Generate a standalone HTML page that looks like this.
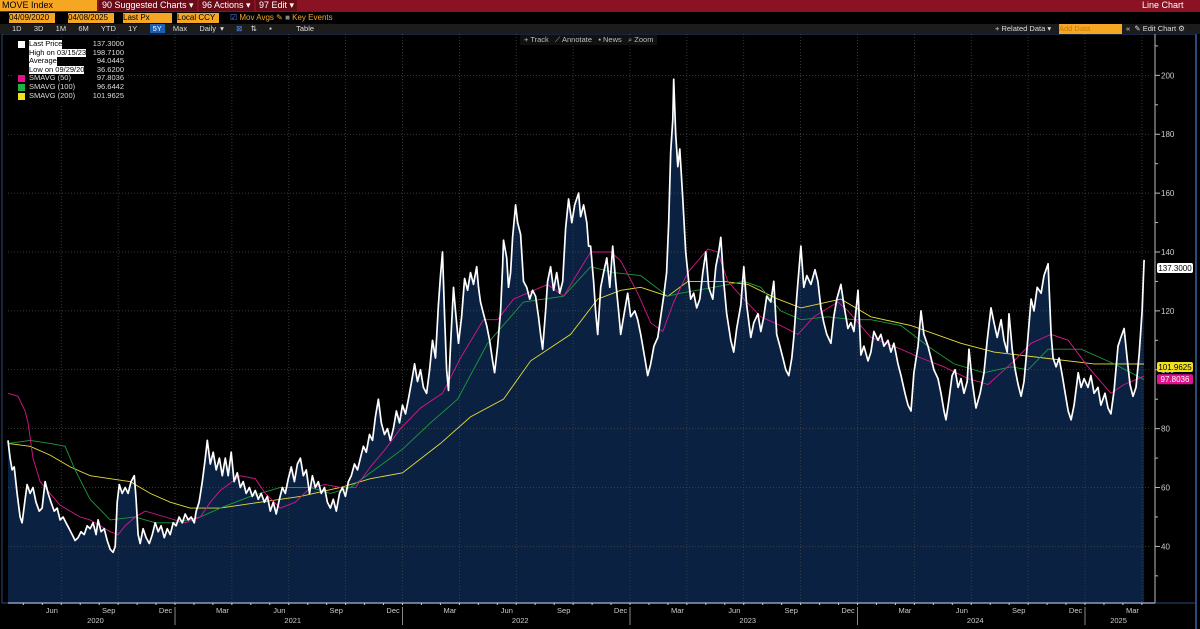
<!DOCTYPE html>
<html><head><meta charset="utf-8">
<style>
html,body{margin:0;padding:0;background:#000;}
body{width:1200px;height:629px;overflow:hidden;font-family:"Liberation Sans",sans-serif;position:relative;}
.bar{position:absolute;left:0;width:1200px;}
.t{position:absolute;font-size:8px;white-space:nowrap;}
</style></head>
<body>
<div class="bar" style="top:0;height:12px;background:#8a1222;"></div>
<div class="t" style="left:0;top:0;width:95px;height:11px;background:#f5a623;color:#000;font-size:9px;line-height:11px;padding-left:2px;">MOVE Index</div>
<div class="t" style="left:99px;top:0;color:#fff;font-size:9px;line-height:11px;background:#6a0c18;padding:0 3px;">90 Suggested Charts ▾</div>
<div class="t" style="left:199px;top:0;color:#fff;font-size:9px;line-height:11px;background:#6a0c18;padding:0 3px;">96 Actions ▾</div>
<div class="t" style="left:256px;top:0;color:#fff;font-size:9px;line-height:11px;background:#6a0c18;padding:0 3px;">97 Edit ▾</div>
<div class="t" style="left:1142px;top:0;color:#fff;font-size:9px;line-height:11px;">Line Chart</div>

<div class="bar" style="top:12px;height:12px;background:#000;"></div>
<div class="t" style="left:9px;top:13px;width:46px;height:10px;background:#f5a623;color:#000;line-height:10px;">04/09/2020</div>
<div class="t" style="left:68px;top:13px;width:46px;height:10px;background:#f5a623;color:#000;line-height:10px;">04/08/2025</div>
<div class="t" style="left:123px;top:13px;width:49px;height:10px;background:#f5a623;color:#000;line-height:10px;">Last Px</div>
<div class="t" style="left:177px;top:13px;width:42px;height:10px;background:#f5a623;color:#000;line-height:10px;">Local CCY</div>
<div class="t" style="left:230px;top:13px;color:#f5a623;line-height:10px;"><span style="color:#4a8af0">☑</span> Mov Avgs ✎ <span style="color:#888">■</span> Key Events</div>

<div class="bar" style="top:24px;height:10px;background:#1c1c1c;"></div>
<div class="t" style="left:12px;top:24px;color:#ddd;line-height:10px;font-size:7.5px;word-spacing:2px;">1D&nbsp;&nbsp; 3D&nbsp;&nbsp; 1M&nbsp;&nbsp; 6M&nbsp;&nbsp; YTD&nbsp;&nbsp; 1Y&nbsp;&nbsp; <span style="background:#1b5fb0;color:#fff;padding:0 3px;">5Y</span>&nbsp; Max&nbsp;&nbsp; Daily ▾&nbsp;&nbsp; <span style="color:#4a8af0">⊠</span>&nbsp; ⇅&nbsp;&nbsp; ▪&nbsp;&nbsp;&nbsp;&nbsp;&nbsp; Table</div>
<div class="t" style="left:995px;top:24px;color:#ddd;line-height:10px;font-size:7.5px;">+ Related Data ▾</div>
<div class="t" style="left:1059px;top:24px;width:63px;height:10px;background:#f5a623;color:#c77a10;line-height:10px;font-size:7.5px;">Add Data</div>
<div class="t" style="left:1126px;top:24px;color:#ddd;line-height:10px;font-size:7.5px;">«&nbsp; ✎ Edit Chart ⚙</div>

<svg id="chart" width="1200" height="595" style="position:absolute;left:0;top:34px;" viewBox="0 34 1200 595" xmlns="http://www.w3.org/2000/svg"></svg>

<div class="t" style="left:520px;top:35px;color:#bbb;background:#111;line-height:10px;font-size:7.5px;padding:0 4px;">+ Track&nbsp;&nbsp; ⟋ Annotate&nbsp;&nbsp; ▪ News&nbsp;&nbsp; ⌕ Zoom</div>

<div style="position:absolute;left:12px;top:40px;width:114px;height:66px;background:#000;font-size:7.5px;line-height:8.6px;color:#ddd;">
 <div style="position:relative;height:8.6px;"><span style="position:absolute;left:6px;top:1px;width:7px;height:7px;background:#fff;"></span><span style="position:absolute;left:17px;background:#fff;color:#000;">Last Price</span><span style="position:absolute;right:2px;">137.3000</span></div>
 <div style="position:relative;height:8.6px;"><span style="position:absolute;left:17px;background:#fff;color:#000;">High on 03/15/23</span><span style="position:absolute;right:2px;">198.7100</span></div>
 <div style="position:relative;height:8.6px;"><span style="position:absolute;left:17px;background:#fff;color:#000;">Average</span><span style="position:absolute;right:2px;">94.0445</span></div>
 <div style="position:relative;height:8.6px;"><span style="position:absolute;left:17px;background:#fff;color:#000;">Low on 09/29/20</span><span style="position:absolute;right:2px;">36.6200</span></div>
 <div style="position:relative;height:8.6px;"><span style="position:absolute;left:6px;top:1px;width:7px;height:7px;background:#e0138c;"></span><span style="position:absolute;left:17px;">SMAVG (50)</span><span style="position:absolute;right:2px;">97.8036</span></div>
 <div style="position:relative;height:8.6px;"><span style="position:absolute;left:6px;top:1px;width:7px;height:7px;background:#22b040;"></span><span style="position:absolute;left:17px;">SMAVG (100)</span><span style="position:absolute;right:2px;">96.6442</span></div>
 <div style="position:relative;height:8.6px;"><span style="position:absolute;left:6px;top:1px;width:7px;height:7px;background:#f0e020;"></span><span style="position:absolute;left:17px;">SMAVG (200)</span><span style="position:absolute;right:2px;">101.9625</span></div>
</div>

<script>
const priceTimes = [2020.266,2020.275,2020.284,2020.293,2020.306,2020.319,2020.328,2020.341,2020.350,2020.363,2020.376,2020.389,2020.403,2020.416,2020.429,2020.442,2020.455,2020.469,2020.482,2020.495,2020.508,2020.521,2020.535,2020.548,2020.561,2020.574,2020.587,2020.601,2020.614,2020.627,2020.640,2020.653,2020.662,2020.675,2020.689,2020.702,2020.715,2020.728,2020.737,2020.746,2020.755,2020.768,2020.781,2020.794,2020.807,2020.821,2020.829,2020.838,2020.847,2020.860,2020.873,2020.887,2020.900,2020.913,2020.926,2020.939,2020.953,2020.966,2020.979,2020.992,2021.005,2021.018,2021.032,2021.045,2021.058,2021.071,2021.085,2021.093,2021.106,2021.120,2021.133,2021.142,2021.155,2021.168,2021.181,2021.195,2021.208,2021.221,2021.234,2021.247,2021.260,2021.274,2021.287,2021.300,2021.313,2021.327,2021.340,2021.353,2021.366,2021.379,2021.393,2021.406,2021.419,2021.432,2021.445,2021.459,2021.472,2021.485,2021.498,2021.511,2021.525,2021.538,2021.551,2021.564,2021.577,2021.591,2021.604,2021.617,2021.630,2021.643,2021.657,2021.670,2021.683,2021.696,2021.709,2021.723,2021.736,2021.749,2021.762,2021.775,2021.789,2021.802,2021.815,2021.828,2021.841,2021.855,2021.868,2021.881,2021.894,2021.907,2021.921,2021.934,2021.947,2021.960,2021.973,2021.987,2022.000,2022.013,2022.026,2022.040,2022.053,2022.066,2022.079,2022.092,2022.106,2022.119,2022.132,2022.145,2022.158,2022.167,2022.176,2022.185,2022.194,2022.202,2022.211,2022.224,2022.233,2022.246,2022.260,2022.273,2022.286,2022.299,2022.312,2022.326,2022.334,2022.343,2022.356,2022.370,2022.383,2022.396,2022.405,2022.418,2022.431,2022.440,2022.444,2022.458,2022.466,2022.475,2022.484,2022.497,2022.506,2022.519,2022.532,2022.546,2022.559,2022.572,2022.585,2022.598,2022.607,2022.616,2022.629,2022.638,2022.651,2022.664,2022.678,2022.691,2022.704,2022.717,2022.730,2022.744,2022.757,2022.774,2022.783,2022.796,2022.810,2022.818,2022.827,2022.840,2022.849,2022.858,2022.871,2022.884,2022.898,2022.911,2022.924,2022.937,2022.950,2022.959,2022.972,2022.990,2023.003,2023.021,2023.034,2023.047,2023.065,2023.078,2023.091,2023.105,2023.122,2023.135,2023.148,2023.161,2023.170,2023.179,2023.188,2023.192,2023.201,2023.210,2023.219,2023.232,2023.245,2023.258,2023.267,2023.280,2023.293,2023.307,2023.320,2023.333,2023.346,2023.364,2023.377,2023.390,2023.399,2023.412,2023.425,2023.443,2023.456,2023.469,2023.487,2023.500,2023.513,2023.531,2023.544,2023.562,2023.575,2023.588,2023.601,2023.619,2023.632,2023.645,2023.659,2023.672,2023.685,2023.698,2023.711,2023.720,2023.733,2023.751,2023.764,2023.777,2023.795,2023.813,2023.826,2023.839,2023.852,2023.865,2023.883,2023.896,2023.909,2023.927,2023.940,2023.958,2023.971,2023.984,2024.002,2024.015,2024.028,2024.046,2024.059,2024.072,2024.090,2024.103,2024.116,2024.134,2024.147,2024.160,2024.178,2024.191,2024.209,2024.222,2024.235,2024.248,2024.266,2024.279,2024.292,2024.310,2024.323,2024.336,2024.354,2024.367,2024.380,2024.389,2024.402,2024.416,2024.429,2024.442,2024.455,2024.468,2024.482,2024.490,2024.504,2024.521,2024.539,2024.556,2024.570,2024.587,2024.600,2024.614,2024.631,2024.644,2024.658,2024.666,2024.680,2024.693,2024.706,2024.719,2024.732,2024.746,2024.763,2024.776,2024.790,2024.807,2024.820,2024.838,2024.851,2024.860,2024.873,2024.886,2024.900,2024.913,2024.926,2024.939,2024.952,2024.970,2024.983,2024.996,2025.013,2025.026,2025.040,2025.057,2025.070,2025.088,2025.101,2025.114,2025.128,2025.145,2025.158,2025.172,2025.185,2025.198,2025.211,2025.224,2025.238,2025.251,2025.260];
const priceValues = [76,70,66,67,58,50,48,56,61,58,60,55,52,53,62,58,55,52,53,49,50,48,46,44,42,43,45,44,47,46,48,44,49,45,46,42,39,38,40,55,61,58,60,58,62,64,56,44,41,46,43,41,44,48,45,47,43,46,44,48,47,50,48,51,49,50,48,52,55,62,70,76,68,72,66,70,64,70,64,72,62,65,60,62,58,60,57,59,56,58,55,57,52,55,51,56,60,58,63,67,62,68,70,64,66,58,64,60,62,58,60,55,53,56,52,58,60,57,62,64,68,66,70,74,72,78,76,84,90,82,78,80,76,80,86,82,88,85,90,96,102,96,100,94,92,100,110,104,122,132,140,118,100,93,108,128,120,109,118,131,127,133,129,135,128,123,119,115,110,103,99,108,120,135,144,138,128,133,145,156,150,146,130,128,124,127,125,118,112,107,120,130,135,127,133,126,130,148,158,150,156,160,152,156,150,142,142,130,120,112,128,133,138,128,142,130,120,112,118,126,118,120,117,112,104,98,102,108,111,118,125,133,150,174,185,198.7,180,169,175,158,140,130,124,126,121,124,133,140,128,124,135,140,145,130,119,110,106,114,122,135,122,111,116,119,113,118,125,123,130,112,108,104,100,98,104,111,125,142,128,132,129,134,130,121,116,112,109,118,124,129,122,114,116,113,127,105,108,103,106,113,110,112,108,110,106,109,102,98,92,88,86,99,108,120,112,108,104,100,97,92,86,83,90,98,100,94,97,92,96,107,96,87,92,99,110,121,116,111,117,110,106,119,107,100,95,91,96,108,124,120,128,126,132,136,112,104,101,104,98,92,86,83,88,99,94,97,94,98,92,94,88,92,87,85,93,108,111,114,104,95,91,94,105,120,137.3];
const sma50Times = [2020.266,2020.310,2020.341,2020.354,2020.376,2020.407,2020.451,2020.495,2020.539,2020.583,2020.627,2020.671,2020.715,2020.750,2020.781,2020.825,2020.869,2020.913,2020.957,2021.001,2021.045,2021.111,2021.155,2021.199,2021.287,2021.353,2021.397,2021.463,2021.529,2021.595,2021.661,2021.727,2021.793,2021.859,2021.925,2021.991,2022.079,2022.176,2022.255,2022.356,2022.418,2022.488,2022.638,2022.708,2022.827,2022.915,2022.959,2023.034,2023.091,2023.144,2023.192,2023.254,2023.342,2023.386,2023.430,2023.500,2023.575,2023.663,2023.738,2023.808,2023.914,2023.958,2024.059,2024.191,2024.279,2024.380,2024.486,2024.574,2024.688,2024.763,2024.851,2024.926,2025.013,2025.114,2025.172,2025.260];
const sma50Values = [92,91,86,82,70,62,58,54,52,50,49,47,45,44,47,50,52,51,50,49,48,50,55,59,64,63,58,53,55,60,61,60,60,67,73,80,87,92,104,117,117,124,129,125,140,140,137,126,116,113,123,133,141,140,130,124,118,115,112,118,123,120,111,107,104,101,97,95,103,109,112,110,101,92,95,97.8036];
const sma100Times = [2020.266,2020.363,2020.451,2020.517,2020.561,2020.627,2020.715,2020.825,2020.913,2021.001,2021.111,2021.199,2021.331,2021.463,2021.595,2021.683,2021.771,2021.859,2021.947,2022.000,2022.123,2022.242,2022.374,2022.532,2022.708,2022.827,2022.928,2023.047,2023.166,2023.223,2023.368,2023.500,2023.575,2023.663,2023.751,2023.870,2023.984,2024.059,2024.191,2024.310,2024.424,2024.556,2024.675,2024.750,2024.838,2024.983,2025.128,2025.260];
const sma100Values = [75,76,75,74,66,56,49,50,48,48,50,53,57,60,60,58,60,65,70,73,82,90,109,123,125,135,133,132,125,126,128,130,128,120,117,118,117,117,115,108,102,99,101,100,107,107,102,96.6442];
const sma200Times = [2020.266,2020.363,2020.451,2020.539,2020.627,2020.715,2020.803,2020.891,2020.979,2021.067,2021.199,2021.375,2021.551,2021.727,2021.859,2022.000,2022.167,2022.299,2022.444,2022.563,2022.739,2022.858,2022.959,2023.047,2023.166,2023.254,2023.412,2023.518,2023.650,2023.751,2023.927,2024.059,2024.235,2024.455,2024.600,2024.820,2025.040,2025.260];
const sma200Values = [75,74,71,67,64,63,62,58,55,53,53,55,57,60,63,65,75,84,90,103,112,124,127,128,125,130,130,129,124,121,124,118,115,109,106,104,102,101.9625];
const yTicks = [40,60,80,100,120,140,160,180,200];
const monthTicks = [["Jun",2020.417],["Sep",2020.667],["Dec",2020.917],["Mar",2021.167],["Jun",2021.417],["Sep",2021.667],["Dec",2021.917],["Mar",2022.167],["Jun",2022.417],["Sep",2022.667],["Dec",2022.917],["Mar",2023.167],["Jun",2023.417],["Sep",2023.667],["Dec",2023.917],["Mar",2024.167],["Jun",2024.417],["Sep",2024.667],["Dec",2024.917],["Mar",2025.167]];
const yearLabels = ["2020","2021","2022","2023","2024","2025"];

const NS = "http://www.w3.org/2000/svg";
const svg = document.getElementById('chart');
const X = t => 175 + (t - 2021) * 227.5;
const Y = v => 252 + (140 - v) * 2.944;
const PL = 8, PR = 1150, PT = 34, PB = 603;
function mk(tag, attrs, parent) {
  const e = document.createElementNS(NS, tag);
  for (const k in attrs) e.setAttribute(k, attrs[k]);
  (parent || svg).appendChild(e);
  return e;
}
const frame = mk('rect', {x: 2, y: 34, width: 1194, height: 569, fill: '#000', stroke: '#2a4a7a', 'stroke-width': 1});


let d = '';
priceTimes.forEach((t, i) => { d += (i ? 'L' : 'M') + X(t).toFixed(1) + ',' + Y(priceValues[i]).toFixed(1); });
const lastX = X(priceTimes[priceTimes.length - 1]).toFixed(1), firstX = X(priceTimes[0]).toFixed(1);
const area = mk('path', {d: d + 'L' + lastX + ',' + PB + 'L' + firstX + ',' + PB + 'Z', fill: '#0b2142'});


yTicks.forEach(v => {
  const g = mk('line', {x1: PL, x2: PR, y1: Y(v), y2: Y(v), stroke: '#4a4a4a', 'stroke-width': 0.7, 'stroke-dasharray': '1,2'});
  
  
});
const quarterStarts = [];
for (let y = 2020; y <= 2025; y++) for (let q = 0; q < 4; q++) quarterStarts.push(y + q * 0.25);
quarterStarts.forEach(t => {
  const x = X(t);
  if (x < PL || x > PR) return;
  const g = mk('line', {x1: x, x2: x, y1: PT, y2: PB, stroke: '#4a4a4a', 'stroke-width': 0.7, 'stroke-dasharray': '1,2'});
  
  
});
function maLine(times, vals, color, name) {
  let p = '';
  times.forEach((t, i) => { p += (i ? 'L' : 'M') + X(t).toFixed(1) + ',' + Y(vals[i]).toFixed(1); });
  const l = mk('path', {d: p, fill: 'none', stroke: color, 'stroke-width': 0.9});
  
  
}
maLine(sma200Times, sma200Values, '#e6dc3a', 'sma200-line');
maLine(sma100Times, sma100Values, '#1f9a3a', 'sma100-line');
maLine(sma50Times, sma50Values, '#d6188a', 'sma50-line');
const pl = mk('path', {d: d, fill: 'none', stroke: '#fff', 'stroke-width': 1.7, 'stroke-linejoin': 'round'});


const ax = mk('line', {x1: 1155, x2: 1155, y1: PT, y2: PB, stroke: '#bbb', 'stroke-width': 1});


const bx = mk('line', {x1: PL, x2: 1155, y1: PB, y2: PB, stroke: '#8a9ab8', 'stroke-width': 1.5});


for (let v = 30; v <= 210; v += 10) {
  const tk = mk('line', {x1: 1155, x2: v % 20 === 0 ? 1160 : 1158, y1: Y(v), y2: Y(v), stroke: '#bbb', 'stroke-width': 1});
  
  
}
yTicks.forEach(v => {
  const tx = mk('text', {x: 1161, y: Y(v) + 3, fill: '#ccc', 'font-size': 8, 'font-family': 'Liberation Sans, sans-serif'});
  tx.textContent = v;
  
  
});
for (let y = 2020; y <= 2025; y++) for (let m = 0; m < 12; m++) {
  const x = X(y + m / 12);
  if (x < PL || x > PR) continue;
  const tk = mk('line', {x1: x, x2: x, y1: PB, y2: PB + 2, stroke: '#ccc', 'stroke-width': 1});
  
  
}
monthTicks.forEach(([lab, t]) => {
  const tx = mk('text', {x: X(t + 1 / 24), y: 613, fill: '#ccc', 'font-size': 7.5, 'text-anchor': 'middle', 'font-family': 'Liberation Sans, sans-serif'});
  tx.textContent = lab;
  
  
});
yearLabels.forEach((yl, i) => {
  const y0 = 2020 + i;
  const a = Math.max(X(y0), PL), b = Math.min(X(y0 + 1), X(priceTimes[priceTimes.length - 1]));
  const tx = mk('text', {x: (a + b) / 2 + 4, y: 623, fill: '#ccc', 'font-size': 7.5, 'text-anchor': 'middle', 'font-family': 'Liberation Sans, sans-serif'});
  tx.textContent = yl;
  
  
  if (i > 0) {
    const s = mk('line', {x1: X(y0), x2: X(y0), y1: 607, y2: 625, stroke: '#888', 'stroke-width': 1});
    
    
  }
});
function tag(v, bg, fg, txt, name, yo) {
  const y = Y(v) + (yo || 0);
  const r = mk('rect', {x: 1157, y: y - 5, width: 36, height: 10, rx: 2, fill: bg});
  
  
  const t = mk('text', {x: 1175, y: y + 3, fill: fg, 'font-size': 8, 'text-anchor': 'middle', 'font-family': 'Liberation Sans, sans-serif'});
  t.textContent = txt;
  
  
}
tag(priceValues[priceValues.length - 1], '#fff', '#000', '137.3000', 'last-price-tag', 8);
tag(sma200Values[sma200Values.length - 1], '#f0e020', '#000', '101.9625', 'sma200-tag', 3);
tag(sma50Values[sma50Values.length - 1], '#e0138c', '#fff', '97.8036', 'sma50-tag', 3);
const rb = mk('line', {x1: 1196, x2: 1196, y1: 34, y2: 629, stroke: '#2a4a7a', 'stroke-width': 2});


</script>
</body></html>
